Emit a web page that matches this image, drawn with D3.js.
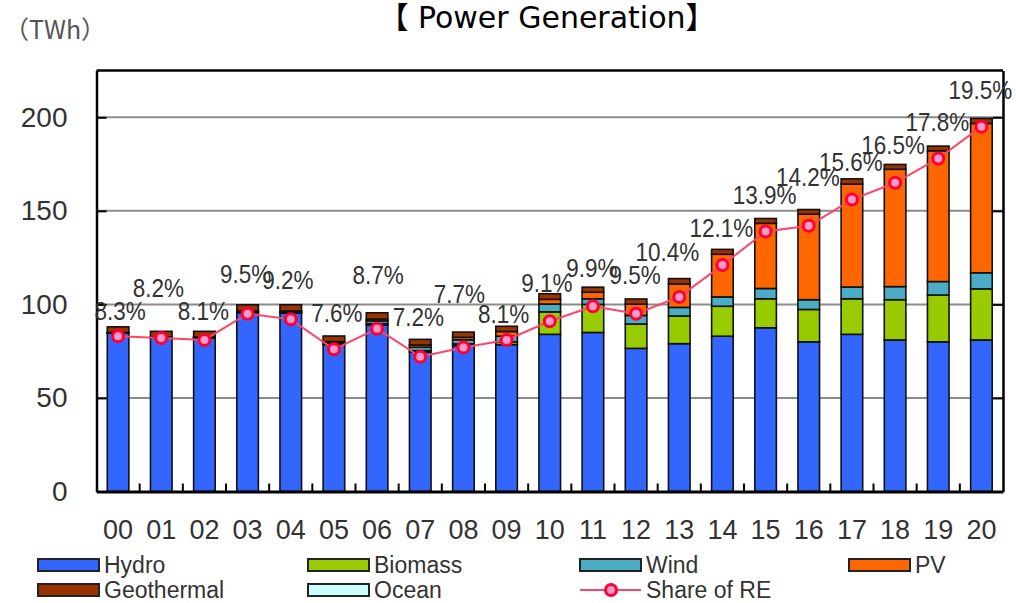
<!DOCTYPE html>
<html>
<head>
<meta charset="utf-8">
<script src="https://cdn.jsdelivr.net/npm/d3@7"></script>
<style>
  body { margin: 0; background: #fff; }
  svg { display: block; }
</style>
</head>
<body>
<svg id="chart" width="1016" height="603"></svg>
<script>
// ---- data (TWh) ----
const years = ["00","01","02","03","04","05","06","07","08","09","10","11","12","13","14","15","16","17","18","19","20"];
const hydro      = [84.6, 82.1, 82.0, 95.6, 95.3, 78.5, 89.0, 74.5, 78.0, 78.5, 84.0, 85.0, 76.5, 79.0, 83.0, 87.5, 80.0, 84.0, 81.0, 80.0, 81.0];
const biomass    = [0.2, 0.2, 0.2, 0.3, 0.3, 0.3, 0.7, 0.8, 0.9, 1.5, 12.0, 15.0, 13.0, 14.8, 16.0, 15.5, 17.3, 19.0, 21.5, 25.0, 27.3];
const wind       = [0.1, 0.2, 0.2, 0.4, 0.6, 0.8, 1.5, 1.8, 2.2, 3.0, 4.2, 3.0, 4.6, 4.6, 5.0, 5.5, 5.2, 6.3, 7.0, 7.2, 8.6];
const pv         = [0.1, 0.1, 0.2, 0.2, 0.3, 0.5, 1.0, 1.2, 1.3, 2.5, 2.5, 3.5, 6.0, 12.5, 22.8, 34.8, 45.7, 55.0, 62.7, 69.9, 79.8];
const geothermal = [3.0, 3.0, 3.0, 3.3, 3.3, 3.0, 3.3, 3.0, 2.8, 2.8, 3.0, 2.7, 2.8, 2.9, 2.6, 2.6, 2.5, 2.8, 2.6, 2.5, 2.7];
const ocean      = [0, 0, 0, 0, 0, 0, 0, 0, 0, 0, 0, 0, 0, 0, 0, 0, 0, 0, 0, 0, 0];
// share of renewables in total generation (%), plotted as % x 10 on the TWh axis
const shareRE    = [8.3, 8.2, 8.1, 9.5, 9.2, 7.6, 8.7, 7.2, 7.7, 8.1, 9.1, 9.9, 9.5, 10.4, 12.1, 13.9, 14.2, 15.6, 16.5, 17.8, 19.5];
const yTicks = [0, 50, 100, 150, 200];
const yMax = 225;

// ---- layout ----
const plot = { left: 96.5, right: 1003, top: 70.5, bottom: 491.5 };
// per-label nudges [dx, dy] so the percentage labels don't collide
const labelShift = [[2,-25],[-3,-50],[-1,-29],[-2,-39],[-3,-39],[3,-36],[1,-53],[-2,-40],[-4,-53],[-3,-26],
                    [-3,-38],[-1,-38],[-1,-38],[-12,-45],[-1,-37],[-1,-36],[-1,-49],[-1,-37],[-2,-38],[-1,-36],[-1,-36]];

const seriesKeys = ["Hydro", "Biomass", "Wind", "PV", "Geothermal", "Ocean"];
const seriesValues = { Hydro: hydro, Biomass: biomass, Wind: wind, PV: pv, Geothermal: geothermal, Ocean: ocean };
const colors = { Hydro: "#3366ff", Biomass: "#99cc00", Wind: "#4bacc6", PV: "#ff6600", Geothermal: "#993300", Ocean: "#ccffff" };
const lineColor = "#ff4466";
const dotFill = "#ff99cc";
const dotStroke = "#ff0033";
const numFont = "'Liberation Sans', Arial, sans-serif";

const svg = d3.select("#chart");

const x = d3.scaleBand().domain(years).range([plot.left, plot.right]);
const y = d3.scaleLinear().domain([0, yMax]).range([plot.bottom, plot.top]);
const barW = x.bandwidth() * 0.5;
const cx = d => x(d) + x.bandwidth() / 2;

// title and unit
svg.append("text")
  .attr("x", 547).attr("y", 17).attr("dy", "0.35em")
  .attr("text-anchor", "middle")
  .attr("font-family", "'DejaVu Sans', 'Noto Sans CJK JP', sans-serif")
  .attr("font-size", 30).attr("fill", "#000")
  .text("【 Power Generation】");

svg.append("text")
  .attr("x", 4).attr("y", 30).attr("dy", "0.35em")
  .attr("font-family", "'Noto Sans CJK JP', sans-serif")
  .attr("font-size", 25).attr("fill", "#555")
  .text("（TWh）");

// gridlines
svg.append("g").selectAll("line")
  .data(yTicks.filter(t => t > 0))
  .join("line")
  .attr("x1", plot.left).attr("x2", plot.right)
  .attr("y1", d => y(d)).attr("y2", d => y(d))
  .attr("stroke", "#8c8c8c").attr("stroke-width", 2);

// stacked bars
const rows = years.map((yr, i) => {
  const r = { year: yr };
  seriesKeys.forEach(k => { r[k] = seriesValues[k][i]; });
  return r;
});
const stacked = d3.stack().keys(seriesKeys)(rows);

svg.append("g").selectAll("g")
  .data(stacked)
  .join("g")
  .attr("fill", d => colors[d.key])
  .selectAll("rect")
  .data(d => d.filter(s => s[1] - s[0] > 0))
  .join("rect")
  .attr("x", s => cx(s.data.year) - barW / 2)
  .attr("y", s => y(s[1]))
  .attr("width", barW)
  .attr("height", s => y(s[0]) - y(s[1]))
  .attr("stroke", "#111").attr("stroke-width", 1.6);

// axes and frame
const leftAxis = svg.append("g")
  .attr("transform", `translate(${plot.left},0)`)
  .call(d3.axisLeft(y).tickValues(yTicks).tickSizeInner(-10).tickSizeOuter(0).tickPadding(29));
leftAxis.select(".domain").attr("stroke", "#000").attr("stroke-width", 2.5);
leftAxis.selectAll(".tick line").attr("stroke", "#000").attr("stroke-width", 2);
leftAxis.selectAll("text").attr("font-family", numFont).attr("font-size", 28).attr("fill", "#333");

const rightAxis = svg.append("g")
  .attr("transform", `translate(${plot.right},0)`)
  .call(d3.axisRight(y).tickValues(yTicks).tickSizeInner(-10).tickSizeOuter(0).tickFormat(""));
rightAxis.select(".domain").attr("stroke", "#000").attr("stroke-width", 2.5);
rightAxis.selectAll(".tick line").attr("stroke", "#000").attr("stroke-width", 2);

const bottomAxis = svg.append("g")
  .attr("transform", `translate(0,${plot.bottom})`)
  .call(d3.axisBottom(x).tickSize(0).tickPadding(28));
bottomAxis.select(".domain").attr("stroke", "#000").attr("stroke-width", 3);
bottomAxis.selectAll("text").attr("font-family", numFont).attr("font-size", 27).attr("fill", "#333");

// category separators along the bottom edge
svg.append("g").selectAll("line")
  .data(years.slice(1))
  .join("line")
  .attr("x1", d => x(d)).attr("x2", d => x(d))
  .attr("y1", plot.bottom).attr("y2", plot.bottom - 8)
  .attr("stroke", "#000").attr("stroke-width", 2);

svg.append("line")
  .attr("x1", plot.left).attr("x2", plot.right)
  .attr("y1", plot.top).attr("y2", plot.top)
  .attr("stroke", "#000").attr("stroke-width", 2.5);

// share of RE line
const line = d3.line()
  .x((d, i) => cx(years[i]))
  .y(d => y(d * 10));

svg.append("path")
  .datum(shareRE)
  .attr("d", line)
  .attr("fill", "none")
  .attr("stroke", lineColor).attr("stroke-width", 2);

svg.append("g").selectAll("circle")
  .data(shareRE)
  .join("circle")
  .attr("cx", (d, i) => cx(years[i]))
  .attr("cy", d => y(d * 10))
  .attr("r", 5.5)
  .attr("fill", dotFill)
  .attr("stroke", dotStroke).attr("stroke-width", 3);

// percentage labels
svg.append("g").selectAll("text")
  .data(shareRE)
  .join("text")
  .attr("transform", (d, i) =>
    `translate(${cx(years[i]) + labelShift[i][0]},${y(d * 10) + labelShift[i][1]}) scale(0.9,1)`)
  .attr("text-anchor", "middle").attr("dy", "0.35em")
  .attr("font-family", numFont).attr("font-size", 25).attr("fill", "#333")
  .text(d => d.toFixed(1) + "%");

// legend
const legendItems = [
  { key: "Hydro", col: 0, row: 0 },
  { key: "Biomass", col: 1, row: 0 },
  { key: "Wind", col: 2, row: 0 },
  { key: "PV", col: 3, row: 0 },
  { key: "Geothermal", col: 0, row: 1 },
  { key: "Ocean", col: 1, row: 1 },
  { key: "Share of RE", col: 2, row: 1, isLine: true }
];
const legendCols = [38, 308, 580, 849];
const legendRows = [565, 590];

const lg = svg.append("g").selectAll("g")
  .data(legendItems)
  .join("g")
  .attr("transform", d => `translate(${legendCols[d.col]},${legendRows[d.row]})`);

lg.filter(d => !d.isLine).append("rect")
  .attr("x", 0).attr("y", -6).attr("width", 61).attr("height", 12)
  .attr("fill", d => colors[d.key])
  .attr("stroke", "#222").attr("stroke-width", 2);

const lgLine = lg.filter(d => d.isLine);
lgLine.append("line")
  .attr("x1", 0).attr("x2", 61).attr("y1", 0).attr("y2", 0)
  .attr("stroke", lineColor).attr("stroke-width", 2);
lgLine.append("circle")
  .attr("cx", 31).attr("cy", 0).attr("r", 5.5)
  .attr("fill", dotFill).attr("stroke", dotStroke).attr("stroke-width", 3);

lg.append("text")
  .attr("x", 66).attr("y", 0).attr("dy", "0.35em")
  .attr("font-family", numFont).attr("font-size", 23).attr("fill", "#333")
  .text(d => d.key);
</script>
</body>
</html>
